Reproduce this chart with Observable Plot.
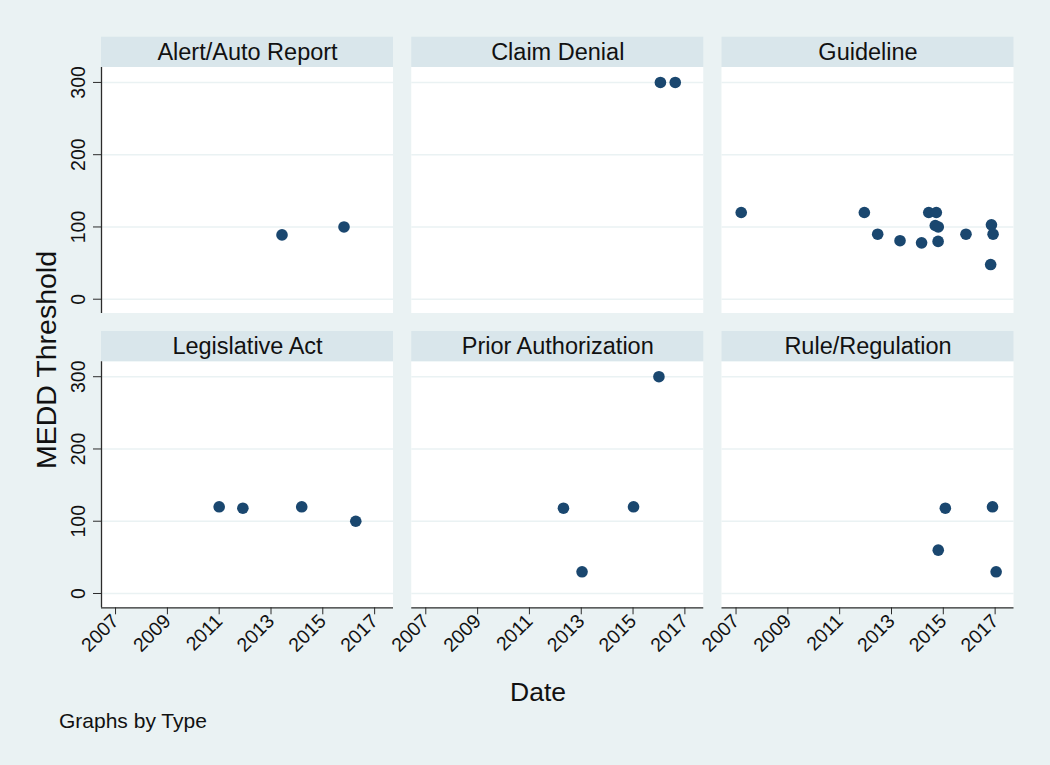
<!DOCTYPE html>
<html><head><meta charset="utf-8">
<script src="https://cdn.jsdelivr.net/npm/d3@7"></script>
<script src="https://cdn.jsdelivr.net/npm/@observablehq/plot@0.6"></script>
<style>
html,body{margin:0;padding:0;background:#eaf2f3;}
#chart{width:1050px;height:765px;}
svg{display:block;}
</style></head><body><div id="chart"></div>
<script>
// ---- data ----
const types = ["Alert/Auto Report", "Claim Denial", "Guideline", "Legislative Act", "Prior Authorization", "Rule/Regulation"];

const pointType = [
  "Alert/Auto Report", "Alert/Auto Report",
  "Claim Denial", "Claim Denial",
  "Guideline", "Guideline", "Guideline", "Guideline", "Guideline", "Guideline", "Guideline",
  "Guideline", "Guideline", "Guideline", "Guideline", "Guideline", "Guideline", "Guideline",
  "Legislative Act", "Legislative Act", "Legislative Act", "Legislative Act",
  "Prior Authorization", "Prior Authorization", "Prior Authorization", "Prior Authorization",
  "Rule/Regulation", "Rule/Regulation", "Rule/Regulation", "Rule/Regulation"
];
const pointDate = [
  "2013-06-05", "2015-10-27",
  "2016-01-22", "2016-08-18",
  "2007-03-15", "2011-12-15", "2012-06-20", "2013-05-01", "2014-03-01", "2014-06-10", "2014-09-25",
  "2014-09-10", "2014-10-22", "2014-10-20", "2015-11-17", "2016-11-10", "2016-12-03", "2016-10-30",
  "2011-01-01", "2011-12-01", "2014-03-10", "2016-04-10",
  "2016-01-01", "2012-04-25", "2015-01-08", "2013-01-12",
  "2015-01-30", "2016-11-25", "2014-10-22", "2017-01-15"
];
const pointValue = [
  89, 100,
  300, 300,
  120, 120, 90, 81, 78, 120, 120,
  102, 100, 80, 90, 103, 90, 48,
  120, 118, 120, 100,
  300, 118, 120, 30,
  118, 120, 60, 30
];

const yTicks = [0, 100, 200, 300];
const xTickYears = [2007, 2009, 2011, 2013, 2015, 2017];

// ---- scale extents ----
const xMin = new Date(Date.UTC(2006, 5, 17));
const xMax = new Date(Date.UTC(2017, 8, 24));
const yMin = -19.8;        // bottom of plot region
const plotTop = 320.7;     // top of plot region
const yMax = 362.6;        // top of panel header strip

// ---- colours ----
const bg = "#eaf2f3";
const headerFill = "#d9e6eb";
const navy = "#1a476f";
const axisColor = "#2b2b2b";

// ---- tables ----
const panels = types.map((t, i) => ({type: t, col: i % 3, row: Math.floor(i / 3)}));
const points = pointType.map((t, i) => {
  const k = types.indexOf(t);
  return {type: t, col: k % 3, row: Math.floor(k / 3), date: new Date(pointDate[i] + "T00:00:00Z"), value: pointValue[i]};
});
const xTicks = xTickYears.map(y => new Date(Date.UTC(y, 0, 1)));

const H = 765;
const svg = Plot.plot({
  width: 1050,
  height: H,
  marginLeft: 101,
  marginRight: 36.5,
  marginTop: 36.7,
  marginBottom: H - 607.3,
  style: {background: "transparent", fontFamily: "'Liberation Sans', Arial, sans-serif", color: "#111"},
  x: {type: "utc", domain: [xMin, xMax], axis: null},
  y: {domain: [yMin, yMax], axis: null},
  fx: {domain: [0, 1, 2], paddingInner: 0.0588, paddingOuter: 0, round: false, axis: null},
  fy: {domain: [0, 1], paddingInner: 0.061, paddingOuter: 0, round: false, axis: null},
  marks: [
    // white plot region
    Plot.rect(panels, {fx: "col", fy: "row", x1: () => xMin, x2: () => xMax, y1: () => yMin, y2: () => plotTop, fill: "white"}),
    // header strip
    Plot.rect(panels, {fx: "col", fy: "row", x1: () => xMin, x2: () => xMax, y1: () => plotTop, y2: () => yMax, fill: headerFill}),
    Plot.text(panels, {fx: "col", fy: "row", text: "type", frameAnchor: "top", lineAnchor: "middle", dy: 15, fontSize: 23.5, fill: "#111"}),
    // grid lines
    Plot.ruleY(panels.flatMap(p => yTicks.map(v => ({...p, v}))), {fx: "col", fy: "row", y: "v", stroke: bg, strokeWidth: 1.4}),
    // axis lines
    Plot.ruleX(panels.filter(p => p.col === 0), {fx: "col", fy: "row", x: () => xMin, y1: () => yMin, y2: () => plotTop, stroke: axisColor, strokeWidth: 1.3}),
    Plot.ruleY(panels.filter(p => p.row === 1), {fx: "col", fy: "row", y: () => yMin, x1: () => xMin, x2: () => xMax, stroke: axisColor, strokeWidth: 1.3}),
    // axes
    Plot.axisY(yTicks, {anchor: "left", facetAnchor: "left", tickSize: 8, tickPadding: 9, tickRotate: -90, fontSize: 19.5, stroke: axisColor, fill: "#111", label: null}),
    Plot.axisX(xTicks, {anchor: "bottom", facetAnchor: "bottom", tickSize: 7, tickPadding: 3, tickRotate: -45, tickFormat: d3.utcFormat("%Y"), fontSize: 19.5, stroke: axisColor, fill: "#111", label: null}),
    // points
    Plot.dot(points, {fx: "col", fy: "row", x: "date", y: "value", r: 5.8, fill: navy, stroke: "none"})
  ]
});

const s = d3.select(svg);
s.selectAll("text").filter(function() { return /^\d{1,4}$/.test(this.textContent.trim()); })
  .style("font-size", "19.5px");
s.append("text").attr("transform", "translate(56,360) rotate(-90)").attr("text-anchor", "middle")
  .style("font-size", "28.5px").attr("fill", "#111").text("MEDD Threshold");
s.append("text").attr("x", 538).attr("y", 701).attr("text-anchor", "middle")
  .style("font-size", "26.5px").attr("fill", "#111").text("Date");
s.append("text").attr("x", 59).attr("y", 728).attr("text-anchor", "start")
  .style("font-size", "21px").attr("fill", "#111").text("Graphs by Type");

document.getElementById("chart").appendChild(svg);
</script>
</body></html>
